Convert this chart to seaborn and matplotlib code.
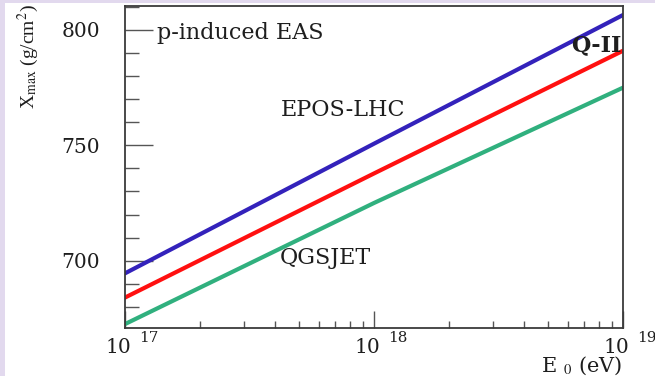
import numpy as np
import pandas as pd
import matplotlib
matplotlib.use("Agg")
import matplotlib.pyplot as plt
import matplotlib.transforms as mtrans
from matplotlib.patches import Rectangle
from matplotlib.ticker import MultipleLocator, LogLocator, NullFormatter
import seaborn as sns

# Primary energy (eV) and mean depth of shower maximum (g/cm^2) per model
energy = [1e17, 1e18, 1e19]
xmax_epos = [694.5, 750.7, 806.5]
xmax_qgs2 = [684.0, 737.8, 791.0]
xmax_qgsjet = [672.5, 725.0, 775.0]

models = ["EPOS-LHC", "Q-II", "QGSJET"]
colors = {"EPOS-LHC": "#3322bb", "Q-II": "#ff1010", "QGSJET": "#30b07e"}

x_ticks = [1e17, 1e18, 1e19]
x_exponents = ["17", "18", "19"]
y_ticks = [700, 750, 800]

df = pd.concat([
    pd.DataFrame({"E": energy, "Xmax": xmax_epos, "model": "EPOS-LHC"}),
    pd.DataFrame({"E": energy, "Xmax": xmax_qgs2, "model": "Q-II"}),
    pd.DataFrame({"E": energy, "Xmax": xmax_qgsjet, "model": "QGSJET"}),
])

sns.set_style("white")
WIDE = ["DejaVu Serif", "Liberation Serif"]
plt.rcParams["font.family"] = WIDE
plt.rcParams["mathtext.fontset"] = "stix"
INK = "#1e1e1e"

W, H = 655, 376
fig = plt.figure(figsize=(W / 100, H / 100), dpi=100, facecolor="white")
# thin lavender margin along the left and top edges
lav = "#e2d9ee"
fig.add_artist(Rectangle((0, 0), 5 / W, 1, transform=fig.transFigure,
                         facecolor=lav, edgecolor="none", zorder=-10))
fig.add_artist(Rectangle((0, 1 - 3 / H), 1, 3 / H, transform=fig.transFigure,
                         facecolor=lav, edgecolor="none", zorder=-10))

ax = fig.add_axes([125 / W, 1 - 328 / H, (623 - 125) / W, (328 - 6) / H])
ax.set_facecolor("white")

sns.lineplot(data=df, x="E", y="Xmax", hue="model", hue_order=models,
             palette=colors, linewidth=3.0, legend=False, ax=ax)

ax.set_xscale("log")
ax.set_xlim(1e17, 1e19)
ax.set_ylim(670.8, 810.4)
ax.set_xlabel("")
ax.set_ylabel("")

for s in ax.spines.values():
    s.set_color("#3a3a3a")
    s.set_linewidth(1.3)

ax.set_yticks(y_ticks)
ax.yaxis.set_minor_locator(MultipleLocator(10))
ax.set_xticks(x_ticks)
ax.xaxis.set_minor_locator(LogLocator(base=10, subs=np.arange(2, 10)))
ax.xaxis.set_minor_formatter(NullFormatter())
ax.set_xticklabels([])
ax.tick_params(axis="y", which="major", direction="in", length=20, width=1,
               color="#555555", labelsize=14.5, pad=18, left=True)
ax.tick_params(axis="y", which="minor", direction="in", length=10, width=1,
               color="#555555", left=True)
ax.tick_params(axis="x", which="major", direction="in", length=12, width=1,
               color="#555555", bottom=True)
ax.tick_params(axis="x", which="minor", direction="in", length=5, width=1,
               color="#555555", bottom=True)
ax.tick_params(top=False, right=False, which="both")
for lab in ax.get_yticklabels():
    lab.set_color(INK)

# x tick labels drawn as "10" with a detached exponent
tr = mtrans.blended_transform_factory(ax.transData, fig.transFigure)
for xv, ex in zip(x_ticks, x_exponents):
    off_base = mtrans.ScaledTranslation(-7 / 100, 0, fig.dpi_scale_trans)
    ax.text(xv, 1 - 353 / H, "10", transform=tr + off_base, ha="center",
            va="baseline", fontsize=14.5, color=INK, clip_on=False)
    off_exp = mtrans.ScaledTranslation(14 / 100, 0, fig.dpi_scale_trans)
    ax.text(xv, 1 - 342 / H, ex, transform=tr + off_exp, ha="left",
            va="baseline", fontsize=11, color=INK, clip_on=False)

fig.text(28 / W, 1 - 4 / H, r"X$_{\rm max}$ (g/cm$^{2}$)", rotation=90,
         ha="center", va="top", fontsize=14, color=INK,
         family=["Liberation Serif", "DejaVu Serif"])
fig.text(622 / W, 1 - 372 / H, r"E $_{0}$ (eV)", ha="right", va="baseline",
         fontsize=15, color=INK)


def place(px, py, s, **kw):
    fig.text(px / W, 1 - py / H, s, color=INK, **kw)


place(157, 33, "p-induced EAS", fontsize=16, ha="left", va="center")
place(281, 110, "EPOS-LHC", fontsize=16, ha="left", va="center")
place(280, 258, "QGSJET", fontsize=16, ha="left", va="center")
place(571, 45, "Q-II", fontsize=16, ha="left", va="center", fontweight="bold")

fig.savefig("out.png", dpi=100, facecolor=fig.get_facecolor())
